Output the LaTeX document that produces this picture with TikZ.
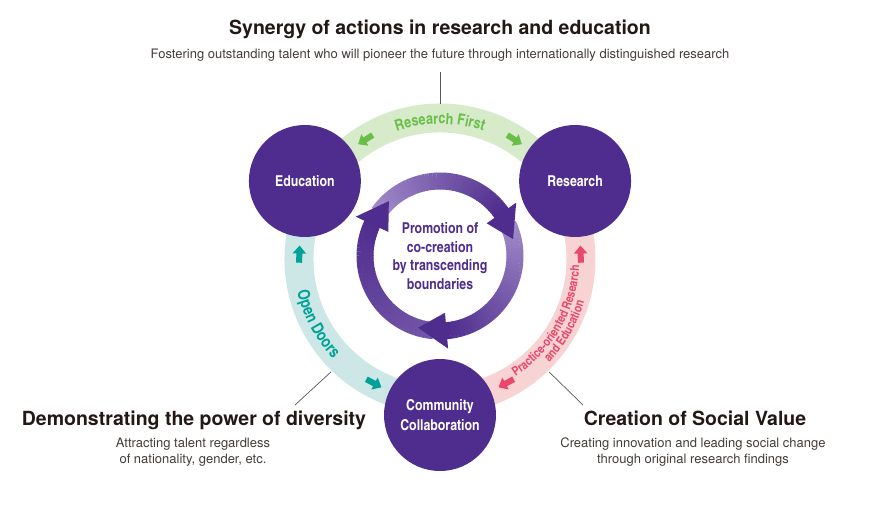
\documentclass[tikz,border=0pt]{standalone}
\usepackage{fontspec}
\setmainfont{TeX Gyre Heros}
\newfontfamily\cnfont{texgyreheroscn}[Extension=.otf, UprightFont=*-regular, BoldFont=*-bold]
\usepackage{xcolor}
\usepackage{tikz}
\usetikzlibrary{arrows.meta}
\usetikzlibrary{positioning}
\usetikzlibrary{calc}
\usetikzlibrary{decorations.text}
\definecolor{hubpurple}{HTML}{4F2D8E}
\definecolor{hublight}{HTML}{A994CF}
\definecolor{bandgreen}{HTML}{D7EBCB}
\definecolor{markgreen}{HTML}{6BBE4A}
\definecolor{bandteal}{HTML}{CCE7E5}
\definecolor{markteal}{HTML}{00A199}
\definecolor{bandpink}{HTML}{F8D3D3}
\definecolor{markpink}{HTML}{E8486C}
\definecolor{inkblack}{HTML}{231815}
\definecolor{leadgray}{HTML}{595757}

\begin{document}
\begin{tikzpicture}[x=1pt, y=1pt,
            hub/.style={circle, fill=hubpurple, minimum size=112pt, inner sep=0pt,
            text=white, align=center,
            font=\cnfont\bfseries\fontsize{15}{20}\selectfont},
            band/.style={line width=29pt},
            flowtip/.style={line width=6pt, -{Triangle[length=8pt, width=13pt]}},
            headline/.style={font=\bfseries\fontsize{19.5}{22}\selectfont, text=inkblack, inner sep=0pt, anchor=base},
            subline/.style={font=\fontsize{13}{16}\selectfont, text=inkblack!85, inner sep=0pt, anchor=base},
            leader/.style={draw=leadgray, line width=0.7pt},
            arclabel/.style={decorate, decoration={text along path, text align=center}}]
            \useasboundingbox (-440,-258) rectangle (445,259);
            % outer ring
            \draw[band, bandgreen] (30:141pt) arc[start angle=30, end angle=150, radius=141pt];
            \draw[band, bandteal] (150:141pt) arc[start angle=150, end angle=270, radius=141pt];
            \draw[band, bandpink] (270:141pt) arc[start angle=270, end angle=390, radius=141pt];
            \foreach \c/\d/\col in {122/1/markgreen, 58/-1/markgreen, 178/-1/markteal, 242/1/markteal, 2/1/markpink, 298/-1/markpink}
                \draw[flowtip, \col] (\c-3.5*\d:141pt) -- (\c+3.5*\d:141pt);
            \path[arclabel, decoration={text color=markgreen, text={|\cnfont\bfseries\fontsize{15.5}{16}\selectfont|Research First}}]
                (118:135pt) arc[start angle=118, end angle=62, radius=135pt];
            \path[arclabel, decoration={text color=markteal, text={|\cnfont\bfseries\fontsize{16.5}{17}\selectfont|Open Doors}}]
                (180:146.5pt) arc[start angle=180, end angle=236, radius=146.5pt];
            \path[arclabel, decoration={text color=markpink, text={|\cnfont\bfseries\fontsize{12.5}{13}\selectfont|Practice-oriented Research}}]
                (-75:139.5pt) arc[start angle=-75, end angle=15, radius=139.5pt];
            \path[arclabel, decoration={text color=markpink, text={|\cnfont\bfseries\fontsize{12.5}{13}\selectfont|and Education}}]
                (-75:150.5pt) arc[start angle=-75, end angle=15, radius=150.5pt];
            % inner cycle
            \foreach \t/\b/\m in {265/155/60, 145/35/10, 25/-85/10} {
                \foreach \s in {0,...,39} {
                    \pgfmathsetmacro\aa{\t-(\t-\b)*\s/40}
                    \pgfmathsetmacro\ab{\t-(\t-\b)*(\s+1)/40-0.4}
                    \pgfmathtruncatemacro\mx{\m+(100-\m)*\s/39}
                    \draw[line width=17pt, hubpurple!\mx!hublight] ([shift={(0,3)}]\aa:75pt) arc[start angle=\aa, end angle=\ab, radius=75pt];
                }
            }
            \foreach \b in {155, 35, -85}
                \fill[hubpurple] ([shift={(0,3)}]\b:57pt) -- ([shift={(0,3)}]\b:93pt) -- ([shift={(0,3)}]\b-22:75pt) -- cycle;
            \node[text=hubpurple, align=center, font=\cnfont\bfseries\fontsize{15}{18.7}\selectfont] (core) at (0,3) {Promotion of\\co-creation\\by transcending\\boundaries};
            % hubs
            \node[hub] (edu) at (150:156pt) {Education};
            \node[hub] (res) at (30:156pt) {Research};
            \node[hub] (com) at (270:156pt) {Community\\Collaboration};
            % captions
            \node[headline] (synergy) at (0,224) {Synergy of actions in research and education};
            \node[subline] (synergysub) at (0,200) {Fostering outstanding talent who will pioneer the future through internationally distinguished research};
            \node[headline] (diversity) at (-246,-166) {Demonstrating the power of diversity};
            \node[subline] (diversitysub) at (-247,-188) {Attracting talent regardless};
            \node[subline] (diversitysubb) at (-247,-204) {of nationality, gender, etc.};
            \node[headline] (social) at (255,-166) {Creation of Social Value};
            \node[subline] (socialsub) at (253,-188) {Creating innovation and leading social change};
            \node[subline] (socialsubb) at (253,-204) {through original research findings};
            \coordinate (toptick) at (0,187);
            \coordinate (topring) at (90:155.5pt);
            \coordinate (leftring) at (226:157pt);
            \coordinate (lefttick) at (-145,-146);
            \coordinate (rightring) at (-46:157pt);
            \coordinate (righttick) at (143,-146);
            \draw[leader] (toptick) -- (topring);
            \draw[leader] (leftring) -- (lefttick);
            \draw[leader] (rightring) -- (righttick);
        \end{tikzpicture}
\end{document}
